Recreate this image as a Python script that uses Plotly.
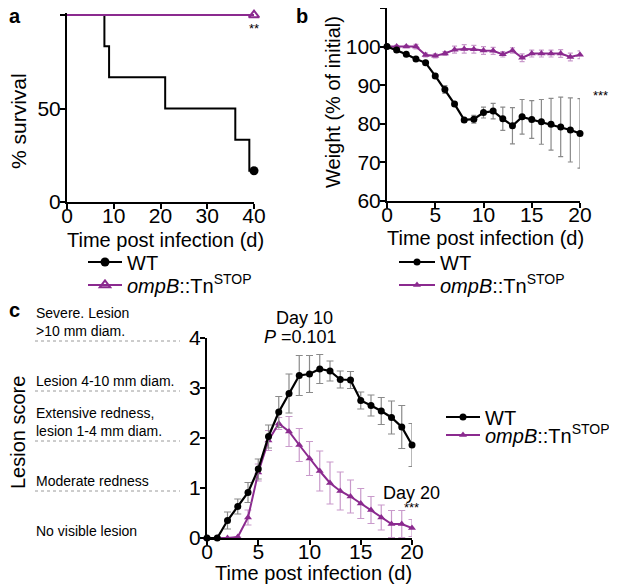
import plotly.graph_objects as go

FONT = "Liberation Sans, Arial, sans-serif"
BLACK = "#000000"
PURPLE = "#8B2A8F"
GREY_ERR = "#8A8A8A"
PURPLE_ERR = "#C99ACB"
# the page adds an 8px body margin, so the figure is drawn 8px smaller and shifted
OFF = 8
W, H = 617 - OFF, 587 - OFF

# a: survival (Kaplan-Meier steps)
surv_days_wt = [0, 8, 9, 21, 36, 39, 40]
surv_wt = [100, 83.3, 66.7, 50, 33.3, 16.7, 16.7]
surv_days_omp = [0, 40]
surv_omp = [100, 100]

# b: weight (% of initial)
days_b = list(range(21))
weight_wt = [100, 99.1, 98.0, 96.8, 95.8, 92.4, 88.9, 85.1, 81.0, 81.2, 82.9,
             83.3, 81.3, 79.5, 81.8, 81.1, 80.5, 79.9, 79.2, 78.4, 77.5]
weight_wt_err = [0, 0.3, 0.3, 0.4, 0.4, 0.6, 1.0, 0.5, 0.5, 1.0, 1.4,
                 2.0, 3.0, 4.7, 4.5, 4.9, 5.8, 6.7, 7.7, 8.3, 9.0]
weight_omp = [100, 100, 100, 100, 97.8, 97.6, 98.2, 99.2, 99.4, 99.3, 99.0,
              98.9, 98.0, 99.0, 97.1, 98.2, 98.2, 98.2, 98.2, 97.3, 97.9]
weight_omp_err = [0, 0.3, 0.3, 0.6, 0.5, 0.5, 0.5, 0.9, 1.1, 1.0, 1.0,
                  0.9, 0.7, 0.7, 1.0, 0.9, 0.9, 0.9, 1.0, 1.0, 1.0]

# c: lesion score
days_c = list(range(21))
lesion_wt = [0, 0, 0.35, 0.63, 0.91, 1.38, 2.03, 2.52, 2.89, 3.25, 3.28,
             3.38, 3.34, 3.17, 3.16, 2.75, 2.65, 2.54, 2.41, 2.22, 1.86]
lesion_wt_err = [0, 0, 0.17, 0.15, 0.2, 0.2, 0.23, 0.31, 0.39, 0.4, 0.37,
                 0.29, 0.2, 0.17, 0.17, 0.17, 0.21, 0.27, 0.33, 0.43, 0.43]
lesion_omp = [0, 0, 0, 0.02, 0.41, 1.31, 1.95, 2.29, 2.13, 1.86, 1.59,
              1.34, 1.10, 0.94, 0.83, 0.69, 0.56, 0.41, 0.28, 0.28, 0.20]
lesion_omp_err = [0, 0, 0, 0, 0.15, 0.17, 0.2, 0.12, 0.3, 0.33, 0.34,
                  0.4, 0.42, 0.38, 0.33, 0.3, 0.27, 0.25, 0.27, 0.27, 0.17]

lesion_levels = [4, 3, 2, 1, 0]
lesion_labels = ["Severe. Lesion<br>&gt;10 mm diam.",
                 "Lesion 4-10 mm diam.",
                 "Extensive redness,<br>lesion 1-4 mm diam.",
                 "Moderate redness",
                 "No visible lesion"]

WT_NAME = "WT"
OMP_NAME = "<i>ompB</i>::Tn<sup>STOP</sup>"


def px_x(p):
    return min(1.0, max(0.0, (p - OFF) / W))


def px_y(p):
    return min(1.0, max(0.0, 1 - (p - OFF) / H))


fig = go.Figure()

# ---- panel a
fig.add_trace(go.Scatter(x=surv_days_wt, y=surv_wt, mode="lines", line_shape="hv",
                         line=dict(color=BLACK, width=2), showlegend=False,
                         xaxis="x", yaxis="y", cliponaxis=False))
fig.add_trace(go.Scatter(x=surv_days_omp, y=surv_omp, mode="lines",
                         line=dict(color=PURPLE, width=2), showlegend=False,
                         xaxis="x", yaxis="y", cliponaxis=False))
fig.add_trace(go.Scatter(x=surv_days_wt[-1:], y=surv_wt[-1:], mode="lines+markers",
                         name=WT_NAME, legend="legend",
                         line=dict(color=BLACK, width=2),
                         marker=dict(symbol="circle", size=9, color=BLACK),
                         xaxis="x", yaxis="y", cliponaxis=False))
fig.add_trace(go.Scatter(x=surv_days_omp[-1:], y=surv_omp[-1:], mode="lines+markers",
                         name=OMP_NAME, legend="legend4",
                         line=dict(color=PURPLE, width=2),
                         marker=dict(symbol="triangle-up-open", size=9, color=PURPLE,
                                     line=dict(width=2, color=PURPLE)),
                         xaxis="x", yaxis="y", cliponaxis=False))

# ---- panel b
fig.add_trace(go.Scatter(x=days_b, y=weight_omp, mode="lines+markers", name=OMP_NAME,
                         legend="legend5",
                         line=dict(color=PURPLE, width=2),
                         marker=dict(symbol="triangle-up", size=7, color=PURPLE),
                         error_y=dict(type="data", array=weight_omp_err, color=PURPLE_ERR,
                                      thickness=1.2, width=2.5),
                         xaxis="x2", yaxis="y2", cliponaxis=False))
fig.add_trace(go.Scatter(x=days_b, y=weight_wt, mode="lines+markers", name=WT_NAME,
                         legend="legend2",
                         line=dict(color=BLACK, width=2.2),
                         marker=dict(symbol="circle", size=7, color=BLACK),
                         error_y=dict(type="data", array=weight_wt_err, color=GREY_ERR,
                                      thickness=1.2, width=2.5),
                         xaxis="x2", yaxis="y2", cliponaxis=False))

# ---- panel c
fig.add_trace(go.Scatter(x=days_c, y=lesion_omp, mode="lines+markers", name=OMP_NAME,
                         legend="legend6",
                         line=dict(color=PURPLE, width=2),
                         marker=dict(symbol="triangle-up", size=7, color=PURPLE),
                         error_y=dict(type="data", array=lesion_omp_err, color=PURPLE_ERR,
                                      thickness=1.2, width=3.5),
                         xaxis="x3", yaxis="y3", cliponaxis=False))
fig.add_trace(go.Scatter(x=days_c, y=lesion_wt, mode="lines+markers", name=WT_NAME,
                         legend="legend3",
                         line=dict(color=BLACK, width=2.2),
                         marker=dict(symbol="circle", size=7, color=BLACK),
                         error_y=dict(type="data", array=lesion_wt_err, color=GREY_ERR,
                                      thickness=1.2, width=3.5),
                         xaxis="x3", yaxis="y3", cliponaxis=False))

axis_style = dict(showline=True, linecolor=BLACK, linewidth=2, ticks="outside",
                  ticklen=5, tickwidth=2, tickcolor=BLACK, showgrid=False,
                  zeroline=False, automargin=False,
                  tickfont=dict(size=21, color=BLACK))
x_style = dict(axis_style, ticklabelstandoff=-11)
y_style = dict(axis_style, ticklabelstandoff=-5)


def legend_at(x, y, iw):
    return dict(x=px_x(x), y=px_y(y), xanchor="left", yanchor="middle",
                font=dict(size=20), bgcolor="rgba(0,0,0,0)", itemwidth=iw,
                borderwidth=0)


# panel a: y range slightly above 100 so the 100% lines are not clipped
fig.update_layout(
    width=W, height=H,
    margin=dict(l=0, r=0, t=0, b=0, pad=0, autoexpand=False),
    paper_bgcolor="white", plot_bgcolor="white",
    font=dict(family=FONT, color=BLACK, size=20),
    xaxis=dict(x_style, domain=[px_x(67), px_x(254)], range=[0, 40],
               tickvals=[0, 10, 20, 30, 40], anchor="y"),
    yaxis=dict(y_style, domain=[px_y(202), px_y(12.8)], range=[0, 101.2],
               tickvals=[0, 50, 100], anchor="x"),
    xaxis2=dict(x_style, domain=[px_x(387), px_x(580)], range=[0, 20],
                tickvals=[0, 5, 10, 15, 20], anchor="y2"),
    yaxis2=dict(y_style, domain=[px_y(201), px_y(8)], range=[60, 110],
                tickvals=[60, 70, 80, 90, 100, 110], anchor="x2"),
    xaxis3=dict(x_style, domain=[px_x(207), px_x(412)], range=[0, 20],
                tickvals=[0, 5, 10, 15, 20], anchor="y3"),
    yaxis3=dict(y_style, domain=[px_y(538), px_y(338)], range=[0, 4],
                tickvals=[0, 1, 2, 3, 4], anchor="x3"),
    legend=legend_at(83, 262, 34),
    legend4=legend_at(83, 285, 34),
    legend2=legend_at(394, 262, 36),
    legend5=legend_at(394, 285, 36),
    legend3=legend_at(441, 417, 34),
    legend6=legend_at(441, 435, 34),
)

ann = []


def text(x, y, s, size=20, **kw):
    d = dict(x=x, y=y, text=s, showarrow=False, xref="paper", yref="paper",
             xanchor="center", yanchor="middle", borderpad=0,
             font=dict(size=size, color=BLACK, family=FONT))
    d.update(kw)
    ann.append(d)


# panel letters
text(px_x(8), px_y(16), "<b>a</b>", size=20, xanchor="left")
text(px_x(295), px_y(16), "<b>b</b>", size=20, xanchor="left")
text(px_x(8), px_y(310), "<b>c</b>", size=20, xanchor="left")

# axis titles
text(px_x(19), px_y(121), "% survival", size=21, textangle=-90)
text(px_x(165), px_y(240), "Time post infection (d)")
text(px_x(333), px_y(102), "Weight (% of initial)", textangle=-90)
text(px_x(485), px_y(238), "Time post infection (d)")
text(px_x(18), px_y(433), "Lesion score", textangle=-90)
text(px_x(313), px_y(573), "Time post infection (d)")

# significance marks
text(px_x(254), px_y(28), "**", size=13)
text(px_x(600), px_y(96), "***", size=13)
text(px_x(304), px_y(318), "Day 10", size=18)
text(px_x(300), px_y(337), "<i>P</i> =0.101", size=18)
text(px_x(411), px_y(493), "Day 20", size=18)
text(px_x(411), px_y(507), "***", size=13)

# lesion score descriptions
shapes = []
for lvl, lab in zip(lesion_levels, lesion_labels):
    text(px_x(35), lvl, lab, size=14, xanchor="left", yanchor="bottom",
         align="left", yref="y3", yshift=-2)
    shapes.append(dict(type="line", xref="paper", yref="y3", x0=px_x(35), x1=px_x(180),
                       y0=lvl - 0.06, y1=lvl - 0.06,
                       line=dict(color="#9A9A9A", width=1, dash="dot")))

# significance bar panel b
shapes.append(dict(type="line", xref="x2", yref="y2", x0=20.95, x1=20.95,
                   y0=98.9, y1=76.6, line=dict(color="#555555", width=1.5)))

fig.update_layout(annotations=ann, shapes=shapes)

fig.write_html("out.html")
